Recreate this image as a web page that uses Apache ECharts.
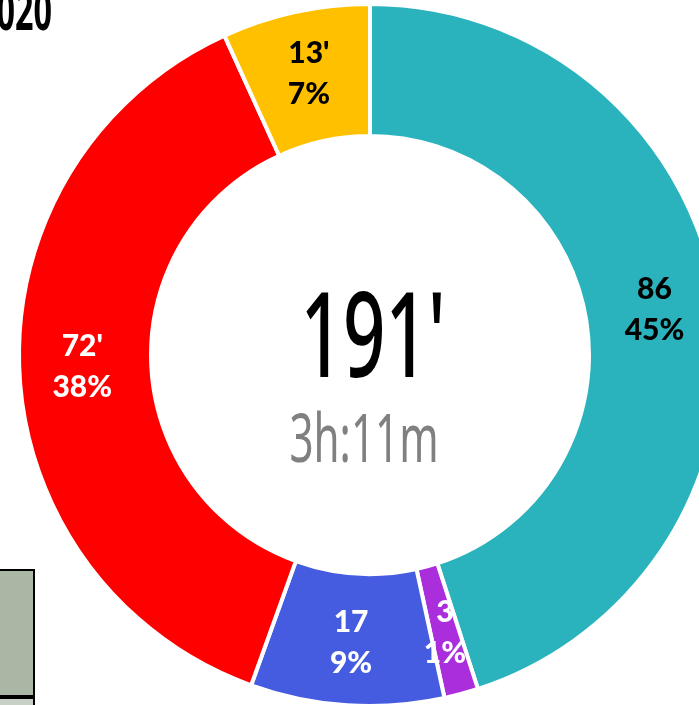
<!DOCTYPE html>
<html>
<head>
<meta charset="utf-8">
<script src="https://cdn.jsdelivr.net/npm/echarts@6/dist/echarts.min.js"></script>
<style>html,body{margin:0;padding:0;background:#fff;}#c{width:699px;height:705px;}</style>
</head>
<body>
<div id="c"></div>
<script>
const categories = ["A", "B", "C", "D", "E"];
const values = [86, 3, 17, 72, 13];
const valueLabels = ["86", "3", "17", "72'", "13'"];
const percentLabels = ["45%", "1%", "9%", "38%", "7%"];
const colors = ["#2AB3BC", "#AA2EDC", "#465CE0", "#FF0000", "#FFC000"];
const labelColors = ["#000000", "#FFFFFF", "#FFFFFF", "#FFFFFF", "#000000"];
const totalText = "191'";
const subText = "3h:11m";
const titleText = "2020";

const chart = echarts.init(document.getElementById('c'), null, {renderer: 'canvas'});
const data = categories.map((c, i) => ({
  name: c,
  value: values[i],
  itemStyle: {color: colors[i]},
  label: {
    show: true,
    position: 'inside',
    color: labelColors[i],
    formatter: valueLabels[i] + "\n" + percentLabels[i],
    fontFamily: 'Lato',
    fontWeight: 900,
    fontSize: 30,
    lineHeight: 41,
    padding: [8, 0, 0, 0],
    align: 'center'
  }
}));
chart.setOption({
  animation: false,
  backgroundColor: '#ffffff',
  series: [{
    type: 'pie',
    center: [370, 355],
    radius: [219, 351],
    startAngle: 90,
    clockwise: true,
    data: data,
    itemStyle: {borderColor: '#ffffff', borderWidth: 4},
    label: {
      show: true,
      position: 'inside',
      fontFamily: 'Lato',
      fontWeight: 900,
      fontSize: 30,
      lineHeight: 41
    },
    labelLine: {show: false},
    emphasis: {disabled: true}
  }],
  graphic: [
    {type: 'text', x: 373, y: 343, scaleX: 0.63, style: {text: totalText, font: '500 118px "Noto Sans"', fill: '#000', textAlign: 'center', textVerticalAlign: 'middle'}},
    {type: 'text', x: 364, y: 443, scaleX: 0.62, style: {text: subText, font: '400 68px "Noto Sans"', fill: '#808080', textAlign: 'center', textVerticalAlign: 'middle'}},
    {type: 'text', x: 52, y: 15, scaleX: 0.6, style: {text: titleText, font: 'bold 54px "Noto Sans"', fill: '#000', textAlign: 'right', textVerticalAlign: 'middle'}},
    {type: 'rect', shape: {x: -3, y: 570, width: 37, height: 126}, style: {fill: '#AAB7A5', stroke: '#000', lineWidth: 2}},
    {type: 'rect', shape: {x: -3, y: 698, width: 37, height: 20}, style: {fill: '#C9D1C6', stroke: '#000', lineWidth: 2}}
  ]
});
</script>
</body>
</html>
